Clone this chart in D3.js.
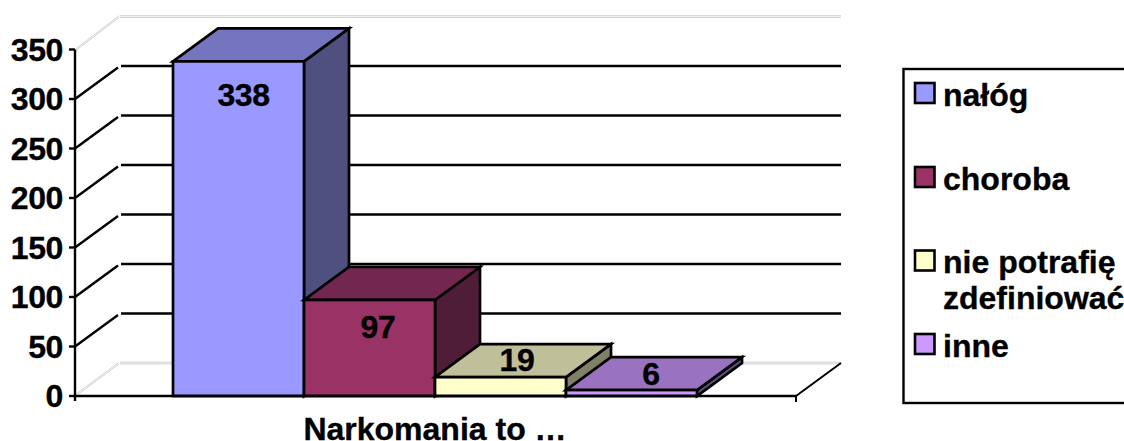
<!DOCTYPE html>
<html><head><meta charset="utf-8">
<style>html,body{margin:0;padding:0;background:#fff}svg{display:block}text{font-family:"Liberation Sans",Arial,sans-serif;font-weight:700;fill:#000;stroke:#000;stroke-width:.35px}</style>
<script src="https://cdn.jsdelivr.net/npm/d3@7"></script>
</head><body><svg id="c" width="1124" height="441"></svg>
<script>
const categories = ["nałóg","choroba","nie potrafię|zdefiniować","inne"];
const values = [338,97,19,6];
const yTicks = [0,50,100,150,200,250,300,350];
const frontColors = ["#9999FF","#993366","#FFFFCC","#CC99FF"];
const topColors = ["#7575BF","#732650","#BFBF99","#9973BF"];
const sideColors = ["#4F4F80","#4F1D38","#808066","#664D80"];
const axisTitle = "Narkomania to …";

const svg = d3.select("#c");
const y = d3.scaleLinear().domain([0,350]).range([396,49.5]);
const x = d3.scaleBand().domain(categories).range([173,697]);
const dx = 45, dy = -33, axisL = 75, axisR = 796, wallR = 841;
const fs = 32;

yTicks.forEach(t=>{
  const yy=y(t);
  if(t===0||t===350){
    [-0.8,0.9].forEach(o=>{
      svg.append("line").attr("x1",axisL+1).attr("y1",yy+o-(t===0?1:0)).attr("x2",axisL+dx-1).attr("y2",yy+dy+o).attr("stroke","#c4c4c4").attr("stroke-width",.8);
      svg.append("line").attr("x1",axisL+dx).attr("y1",yy+dy+o).attr("x2",wallR).attr("y2",yy+dy+o).attr("stroke","#c4c4c4").attr("stroke-width",.8);
    });
  } else {
    svg.append("line").attr("x1",axisL).attr("y1",yy).attr("x2",axisL+dx-2).attr("y2",yy+dy+1.5).attr("stroke","#000").attr("stroke-width",2.4);
    svg.append("line").attr("x1",axisL+dx+1).attr("y1",yy+dy).attr("x2",wallR).attr("y2",yy+dy).attr("stroke","#000").attr("stroke-width",2.4);
  }
});
svg.append("line").attr("x1",axisR).attr("y1",y(0)).attr("x2",wallR).attr("y2",y(0)+dy).attr("stroke","#000").attr("stroke-width",2);

categories.forEach((c,i)=>{
  const x0=x(c), x1=x0+x.bandwidth(), yt=y(values[i]), yb=y(0);
  const g=svg.append("g").attr("stroke","#000").attr("stroke-width",2.7).attr("stroke-linejoin","miter");
  g.append("polygon").attr("points",[[x1,yt],[x1+dx,yt+dy],[x1+dx,yb+dy],[x1,yb]].join(" ")).attr("fill",sideColors[i]);
  g.append("polygon").attr("points",[[x0,yt],[x0+dx,yt+dy],[x1+dx,yt+dy],[x1,yt]].join(" ")).attr("fill",topColors[i]);
  g.append("rect").attr("x",x0).attr("y",yt).attr("width",x.bandwidth()).attr("height",yb-yt).attr("fill",frontColors[i]);
});

svg.append("line").attr("x1",axisL).attr("y1",y(350)).attr("x2",axisL).attr("y2",y(0)+5).attr("stroke","#000").attr("stroke-width",2.4);
svg.append("line").attr("x1",axisL-1).attr("y1",y(0)).attr("x2",axisR).attr("y2",y(0)).attr("stroke","#000").attr("stroke-width",2.7);
svg.append("line").attr("x1",axisR).attr("y1",y(0)).attr("x2",axisR).attr("y2",y(0)+6).attr("stroke","#000").attr("stroke-width",2);
yTicks.forEach(t=>{
  svg.append("line").attr("x1",axisL-6).attr("x2",axisL).attr("y1",y(t)).attr("y2",y(t)).attr("stroke","#000").attr("stroke-width",2.4);
  svg.append("text").attr("x",63).attr("y",y(t)+11).attr("text-anchor","end").attr("font-size",fs).style("letter-spacing","-0.4px").text(t);
});

const labelY=[106,338,371,385];
const labelX=[243.5,378,517,651];
values.forEach((v,i)=>{
  svg.append("text").attr("x",labelX[i]).attr("y",labelY[i]).attr("text-anchor","middle").attr("font-size",fs).style("letter-spacing","-0.4px").text(v);
});

svg.append("text").attr("x",435).attr("y",439.5).attr("text-anchor","middle").attr("font-size",fs).text(axisTitle);

svg.append("rect").attr("x",903.5).attr("y",69).attr("width",240).attr("height",334).attr("fill","none").attr("stroke","#000").attr("stroke-width",2.4);
const legendY=[83,167,250.5,334];
categories.forEach((c,i)=>{
  svg.append("rect").attr("x",915).attr("y",legendY[i]).attr("width",19.5).attr("height",20).attr("fill",frontColors[i]).attr("stroke","#000").attr("stroke-width",2.6);
  c.split("|").forEach((s,j)=>{
    svg.append("text").attr("x",943).attr("y",legendY[i]+22.5+j*35.5).attr("font-size",fs).text(s);
  });
});
</script></body></html>
